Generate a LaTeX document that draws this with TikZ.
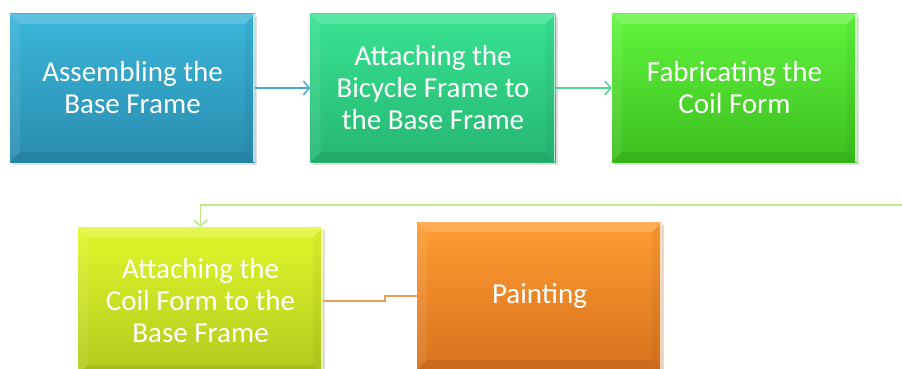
\documentclass[tikz,border=0pt]{standalone}
\usepackage{fontspec}
\setmainfont{Carlito}
\usetikzlibrary{arrows.meta,shadows}

\definecolor{blueTop}{HTML}{3AB6DA}
\definecolor{blueBot}{HTML}{2A8CAE}
\definecolor{tealTop}{HTML}{38E392}
\definecolor{tealBot}{HTML}{26B672}
\definecolor{greenTop}{HTML}{60F43E}
\definecolor{greenBot}{HTML}{3CBE1E}
\definecolor{limeTop}{HTML}{E0F72C}
\definecolor{limeBot}{HTML}{B2C91E}
\definecolor{orangeTop}{HTML}{FF9C32}
\definecolor{orangeBot}{HTML}{D8721E}
\definecolor{blueLine}{HTML}{4AA6CA}
\definecolor{tealLine}{HTML}{4CD68E}
\definecolor{limeLine}{HTML}{BCEA84}
\definecolor{orangeLine}{HTML}{F09C4C}

\tikzset{
  procbox/.style 2 args={minimum width=245pt, minimum height=148pt, inner sep=0pt,
    top color=#1, bottom color=#2, text=white, align=center,
    font=\fontsize{29}{32}\selectfont,
    drop shadow={shadow xshift=2pt, shadow yshift=-3pt, opacity=.25},
    path picture={
      \fill[white, opacity=.18] (path picture bounding box.north west) -- (path picture bounding box.north east)
        -- ([xshift=-10pt,yshift=-10pt]path picture bounding box.north east) -- ([xshift=10pt,yshift=-10pt]path picture bounding box.north west) -- cycle;
      \fill[white, opacity=.08] (path picture bounding box.north west) -- (path picture bounding box.south west)
        -- ([xshift=10pt,yshift=10pt]path picture bounding box.south west) -- ([xshift=10pt,yshift=-10pt]path picture bounding box.north west) -- cycle;
      \fill[black, opacity=.07] (path picture bounding box.south west) -- (path picture bounding box.south east)
        -- ([xshift=-10pt,yshift=10pt]path picture bounding box.south east) -- ([xshift=10pt,yshift=10pt]path picture bounding box.south west) -- cycle;
      \fill[black, opacity=.04] (path picture bounding box.north east) -- (path picture bounding box.south east)
        -- ([xshift=-10pt,yshift=10pt]path picture bounding box.south east) -- ([xshift=-10pt,yshift=-10pt]path picture bounding box.north east) -- cycle;
      \draw[white, opacity=.7, line width=1.5pt] ([xshift=-1pt]path picture bounding box.north east) -- ([xshift=-1pt]path picture bounding box.south east);
    }},
  link/.style={line width=1.5pt, -{Straight Barb[length=6pt, width=14pt]}}
}

\begin{document}
\begin{tikzpicture}[x=1pt, y=-1pt]
\clip (0,0) rectangle (902,369);

\node[procbox={blueTop}{blueBot}] (b1) at (132.5,88) {Assembling the\\Base Frame};
\node[procbox={tealTop}{tealBot}] (b2) at (433,88) {Attaching the\\Bicycle Frame to\\the Base Frame};
\node[procbox={greenTop}{greenBot}] (b3) at (734.5,88) {Fabricating the\\Coil Form};

\node[procbox={limeTop}{limeBot}] (b4) at (200.5,301) {Attaching the\\Coil Form to the\\Base Frame};
\node[procbox={orangeTop}{orangeBot}] (b5) at (539.5,296) {Painting};

\coordinate (c1) at (904,205);

\draw [link, blueLine] (b1) -- (b2);
\draw [link, tealLine] (b2) -- (b3);
\draw [link, limeLine] (c1) -| (b4.north);
\draw [line width=1.5pt, orangeLine] (b4.east) -- ++(62,0) |- (b5.west);
\end{tikzpicture}
\end{document}
